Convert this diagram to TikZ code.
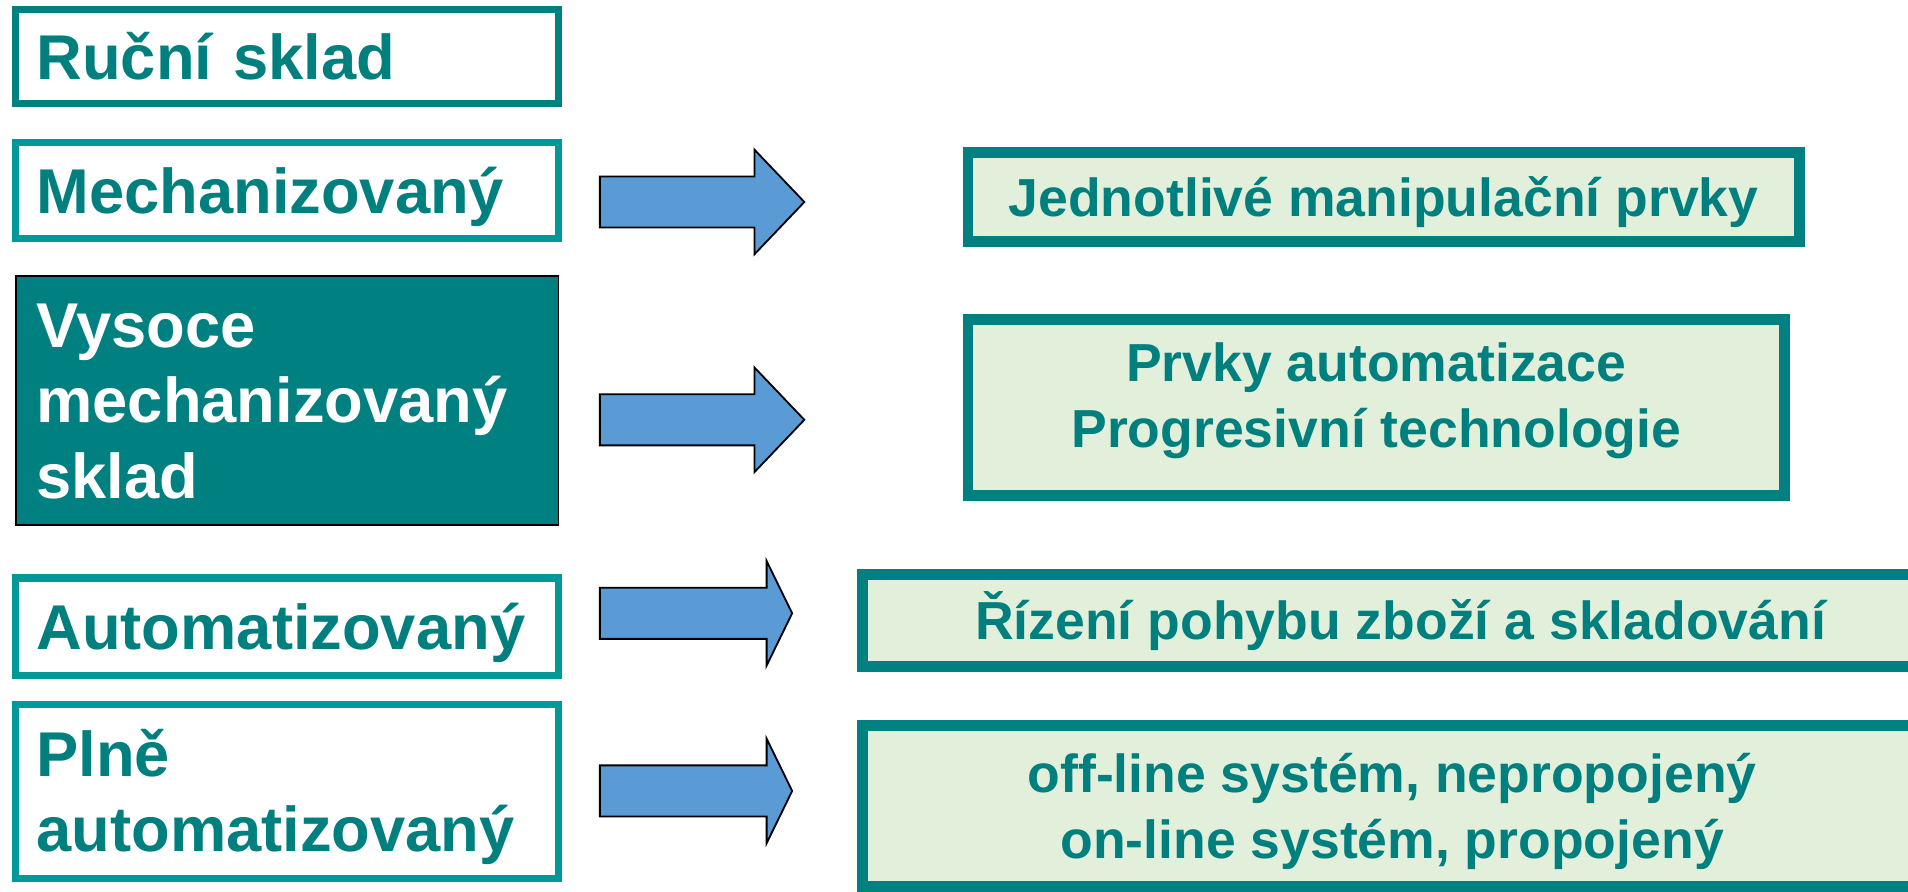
\documentclass[tikz,border=0pt]{standalone}
\usepackage{fontspec}
\setmainfont{Liberation Sans}

\definecolor{tealdark}{HTML}{008080}
\definecolor{teallight}{HTML}{009999}
\definecolor{tealtext}{HTML}{007F7F}
\definecolor{arrowblue}{HTML}{5B9BD5}
\definecolor{palegreen}{HTML}{E2EFDA}

\tikzset{
  levelbox/.style={draw=teallight, line width=3pt, fill=white, text=tealtext,
    font=\bfseries\fontsize{26}{31}\selectfont, minimum width=223pt,
    text width=206pt, align=left, inner xsep=8.5pt, inner ysep=0pt,
    text height=18.6pt, text depth=0pt},
  keybox/.style={levelbox, draw=black, line width=0.75pt, fill=tealdark, text=white},
  resultbox/.style={draw=tealdark, line width=4.5pt, fill=palegreen, text=tealtext,
    font=\bfseries\fontsize{22}{27}\selectfont, align=center, inner sep=0pt,
    text height=15.75pt, text depth=0pt}
}

\begin{document}
\begin{tikzpicture}[x=0.5pt, y=-0.5pt]
	\useasboundingbox (0,0) rectangle (1568,733);
	% levels of the store
	\node[levelbox, draw=tealdark, minimum height=38.5pt] (manual) at (236,46.5) {Ruční sklad};
	\node[levelbox, minimum height=39.5pt] (mech) at (236,156.5) {Mechanizovaný};
	\node[keybox, minimum height=102.25pt, text depth=62pt] (highmech) at (236,329) {Vysoce\\mechanizovaný\\sklad};
	\node[levelbox, minimum height=40pt] (auto) at (236,515) {Automatizovaný};
	\node[levelbox, minimum height=71.5pt, text depth=31pt] (fullauto) at (236,650.5) {Plně\\automatizovaný};
	% what each level brings
	\node[resultbox, minimum width=341.5pt, minimum height=36.5pt] (elements) at (1137,162) {Jednotlivé manipulační prvky};
	\node[resultbox, minimum width=335.5pt, minimum height=72.5pt, text height=42.75pt, text depth=10pt] (automation) at (1131,335) {Prvky automatizace\\Progresivní technologie};
	\node[resultbox, minimum width=442.5pt, minimum height=37.5pt] (control) at (1151,510) {Řízení pohybu zboží a skladování};
	\node[resultbox, minimum width=435.5pt, minimum height=66pt, text height=42.75pt] (online) at (1144,662.5) {off-line systém, nepropojený\\on-line systém, propojený};
	% block arrows
	\foreach \y/\s/\t in {166/620/661, 345/620/661, 504/630/651, 650/630/651}
		\draw[draw=black, line width=0.75pt, fill=arrowblue] (493,\y-21) -- (\s,\y-21) -- (\s,\y-43) -- (\t,\y)
			-- (\s,\y+43) -- (\s,\y+21) -- (493,\y+21) -- cycle;
\end{tikzpicture}
\end{document}
